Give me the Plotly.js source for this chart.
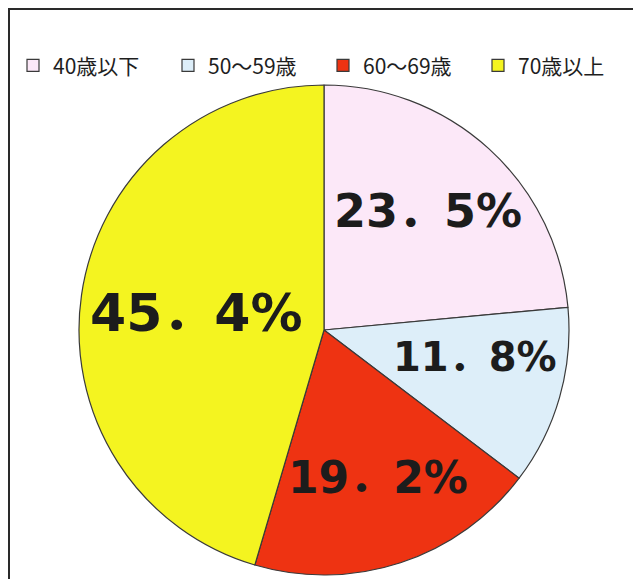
<!DOCTYPE html>
<html>
<head>
<meta charset="utf-8">
<script src="https://cdn.plot.ly/plotly-3.0.1.min.js"></script>
<style>html,body{margin:0;padding:0;background:#fff;}#chart{width:633px;height:579px;}</style>
</head>
<body>
<div id="chart"></div>
<script>
const categories = ["40歳以下", "50～59歳", "60～69歳", "70歳以上"];
const values = [23.5, 11.8, 19.2, 45.4];
const colors = ["#fce8f8", "#ddeef9", "#ee3312", "#f4f420"];
// label anchor positions (paper fractions) for the value texts
const labelX = [0.676, 0.750, 0.597, 0.311];
const labelY = [0.635, 0.384, 0.175, 0.459];
const labelSize = [46, 40, 44, 52];

function fmt(v) {
  return v.toFixed(1).replace(".", "．") + "%";
}

const trace = {
  type: "pie",
  labels: categories,
  values: values,
  sort: false,
  direction: "clockwise",
  rotation: 0,
  marker: { colors: colors, line: { color: "#3a3a3a", width: 1.2 } },
  textinfo: "none",
  hoverinfo: "label+percent",
  domain: { x: [0.1248, 0.8989], y: [0.0069, 0.8532] }
};

const annotations = values.map((v, i) => ({
  xref: "paper", yref: "paper",
  x: labelX[i], y: labelY[i],
  xanchor: "center", yanchor: "middle",
  text: fmt(v),
  showarrow: false,
  font: { family: "DejaVu Sans, Noto Sans CJK JP, sans-serif", size: labelSize[i], color: "#1c1c1c", weight: "bold" }
}));

const layout = {
  width: 633, height: 579,
  margin: { l: 0, r: 0, t: 0, b: 0 },
  paper_bgcolor: "#ffffff",
  showlegend: true,
  legend: {
    orientation: "h",
    x: 0.036, y: 0.922, xanchor: "left", yanchor: "top",
    bgcolor: "rgba(0,0,0,0)",
    font: { family: "Noto Sans CJK JP, sans-serif", size: 21, color: "#1e1e1e" },
    entrywidth: 110, entrywidthmode: "pixels",
    itemwidth: 30,
    traceorder: "normal"
  },
  shapes: [{
    type: "rect", xref: "paper", yref: "paper",
    x0: 9 / 633, x1: 1.05, y0: -0.05, y1: 1 - 9 / 579,
    line: { color: "#2a2a2a", width: 2 }
  }],
  annotations: annotations
};

Plotly.newPlot("chart", [trace], layout, { displayModeBar: false, staticPlot: true });
</script>
</body>
</html>
